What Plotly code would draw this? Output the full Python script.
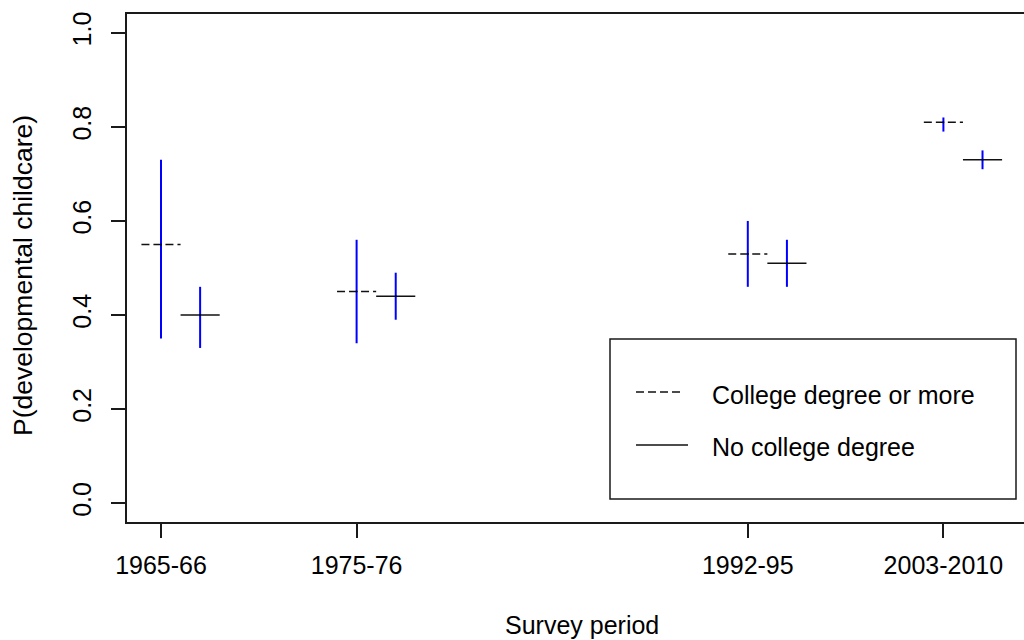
import plotly.graph_objects as go

# Survey periods and their positions on the x axis
periods = ["1965-66", "1975-76", "1992-95", "2003-2010"]
positions = [1, 2, 4, 5]

# Estimated probabilities with confidence bounds
college = [0.55, 0.45, 0.53, 0.81]
college_lo = [0.35, 0.34, 0.46, 0.79]
college_hi = [0.73, 0.56, 0.60, 0.82]

no_college = [0.40, 0.44, 0.51, 0.73]
no_college_lo = [0.33, 0.39, 0.46, 0.71]
no_college_hi = [0.46, 0.49, 0.56, 0.75]

OFFSET = 0.2      # no-college estimates sit to the right of the period tick
HALF = 0.1        # half-width of the horizontal estimate segments

FONT = "Liberation Sans, Arial, sans-serif"
FS = 25
W, H = 1024, 640
ML, MR, MT, MB = 127, 0, 14, 118


def seg_xy(xs, ys):
    sx, sy = [], []
    for x, y in zip(xs, ys):
        sx += [x - HALF, x + HALF, None]
        sy += [y, y, None]
    return sx, sy


fig = go.Figure()

x_col = positions
x_nc = [p + OFFSET for p in positions]

sx, sy = seg_xy(x_col, college)
fig.add_trace(go.Scatter(x=sx, y=sy, mode="lines",
                         line=dict(color="#111111", width=1.5, dash="8px,4px"),
                         hoverinfo="skip"))
sx, sy = seg_xy(x_nc, no_college)
fig.add_trace(go.Scatter(x=sx, y=sy, mode="lines",
                         line=dict(color="#111111", width=1.5),
                         hoverinfo="skip"))

for xs, v, lo, hi in [(x_col, college, college_lo, college_hi),
                      (x_nc, no_college, no_college_lo, no_college_hi)]:
    fig.add_trace(go.Scatter(
        x=xs, y=v, mode="markers",
        marker=dict(size=2, color="black"),
        error_y=dict(type="data", symmetric=False,
                     array=[h - m for h, m in zip(hi, v)],
                     arrayminus=[m - l for m, l in zip(v, lo)],
                     color="#0000ff", thickness=2, width=0),
    ))

# x range: plot region runs past the right edge of the page
px_per_unit = 195.6
x0 = 1 - (161 - ML) / px_per_unit
x1 = x0 + (W - ML - MR) / px_per_unit

fig.update_layout(
    width=W, height=H,
    margin=dict(l=ML, r=MR, t=MT, b=MB, pad=0),
    plot_bgcolor="white", paper_bgcolor="white",
    showlegend=False,
    font=dict(family=FONT, size=FS, color="black"),
    xaxis=dict(range=[x0, x1], tickvals=positions, ticktext=periods,
               showgrid=False, zeroline=False,
               showline=True, mirror=True, linecolor="#1a1a1a", linewidth=1.5,
               ticks="outside", ticklen=14, tickwidth=1.5, tickcolor="#1a1a1a",
               tickfont=dict(family=FONT, size=FS, color="black"),
               ticklabelstandoff=6),
    yaxis=dict(range=[-0.04, 1.04], tickvals=[0, 0.2, 0.4, 0.6, 0.8, 1.0],
               ticktext=["0.0", "0.2", "0.4", "0.6", "0.8", "1.0"],
               tickangle=-90,
               showgrid=False, zeroline=False,
               showline=True, linecolor="#1a1a1a", linewidth=1.5,
               ticks="outside", ticklen=14, tickwidth=1.5, tickcolor="#1a1a1a",
               tickfont=dict(family=FONT, size=FS, color="black"),
               ticklabelstandoff=10),
)


def px(xp):
    return (xp - ML) / (W - ML - MR)


def py(yp):
    return (H - MB - yp) / (H - MT - MB)


# Axis titles
fig.add_annotation(text="Survey period", xref="paper", yref="paper",
                   x=px(582), y=py(625), xanchor="center", yanchor="middle",
                   showarrow=False, font=dict(family=FONT, size=FS, color="black"))
fig.add_annotation(text="P(developmental childcare)", xref="paper", yref="paper",
                   x=px(23), y=py(276), xanchor="center", yanchor="middle",
                   textangle=-90, showarrow=False,
                   font=dict(family=FONT, size=26.5, color="black"))

# Legend box
fig.add_shape(type="rect", xref="paper", yref="paper",
              x0=px(610), x1=px(1016), y0=py(499), y1=py(339),
              line=dict(color="#1a1a1a", width=1.5), fillcolor="white", layer="above")
fig.add_shape(type="line", xref="paper", yref="paper",
              x0=px(636), x1=px(682), y0=py(392), y1=py(392),
              line=dict(color="#111111", width=1.5, dash="8px,4px"))
fig.add_shape(type="line", xref="paper", yref="paper",
              x0=px(636), x1=px(688), y0=py(445), y1=py(445),
              line=dict(color="#111111", width=1.5))
fig.add_annotation(text="College degree or more", xref="paper", yref="paper",
                   x=px(710), y=py(395), xanchor="left", yanchor="middle",
                   showarrow=False, font=dict(family=FONT, size=FS, color="black"))
fig.add_annotation(text="No college degree", xref="paper", yref="paper",
                   x=px(710), y=py(447), xanchor="left", yanchor="middle",
                   showarrow=False, font=dict(family=FONT, size=FS, color="black"))

fig.write_html("out.html")
